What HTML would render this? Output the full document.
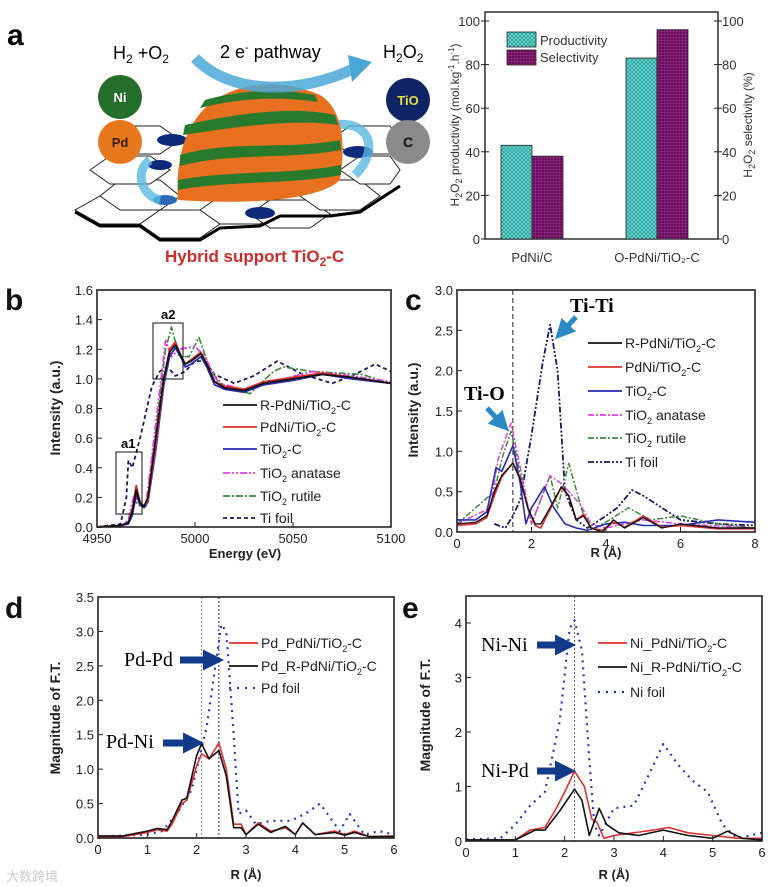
<!DOCTYPE html>
<html><head><meta charset="utf-8"><style>
body{margin:0;background:#fff}
svg{display:block;font-family:"Liberation Sans",sans-serif}
</style></head><body>
<svg id="fig" width="776" height="887" viewBox="0 0 776 887" xmlns="http://www.w3.org/2000/svg">
<defs>
<pattern id="hatch" width="4" height="4" patternUnits="userSpaceOnUse"><rect width="4" height="4" fill="#5fd6cf"/><path d="M0,4L4,0M0,0L4,4" stroke="#2a8a86" stroke-width="0.6"/></pattern>
<pattern id="hatch2" width="3" height="3" patternUnits="userSpaceOnUse"><rect width="3" height="3" fill="#6a0a5e"/><path d="M0,1.5H3M1.5,0V3" stroke="#9a3a8a" stroke-width="0.5"/></pattern>
<marker id="ah" markerWidth="4" markerHeight="4" refX="2" refY="2" orient="auto"><path d="M0,0L4,2L0,4z" fill="#2a8ac8"/></marker>
<marker id="ahn" markerWidth="3" markerHeight="3" refX="1" refY="1.5" orient="auto"><path d="M0,0L3,1.5L0,3z" fill="#123a8a"/></marker>
</defs>

<!-- Panel a illustration -->
<g>
<text x="7" y="45" font-size="30" font-weight="bold">a</text>
<g stroke="#222" stroke-width="1">
<polygon points="75,210 100,196 140,196 160,210 140,224 100,224" fill="#fff"/>
<polygon points="140,224 160,210 200,210 220,224 200,238 160,238" fill="#fff"/>
<polygon points="100,196 120,180 160,180 180,196 160,210 120,210" fill="#fff"/>
<polygon points="90,170 110,156 150,156 170,170 150,184 110,184" fill="#fff"/>
<polygon points="200,210 220,196 260,196 280,210 260,224 220,224" fill="#fff"/>
<polygon points="250,214 270,200 310,200 330,214 310,228 270,228" fill="#fff"/>
<polygon points="300,196 320,180 360,180 380,196 360,210 320,210" fill="#fff"/>
<polygon points="340,170 360,156 390,156 400,170 390,184 360,184" fill="#fff"/>
<polygon points="330,140 350,126 390,126 400,140 390,154 350,154" fill="#fff"/>
<polygon points="100,140 120,126 160,126 180,140 160,154 120,154" fill="#fff"/>
<path d="M75,212 L100,226 L140,226 L160,240 L200,240 L220,228 L260,226 L280,216 L330,216 L360,212 L400,186" fill="none" stroke="#000" stroke-width="3"/>
</g>
<ellipse cx="260" cy="213" rx="15" ry="6" fill="#0d2a7a"/>
<ellipse cx="172" cy="140" rx="15" ry="6" fill="#0d2a7a"/>
<ellipse cx="160" cy="165" rx="12" ry="5" fill="#0d2a7a"/>
<ellipse cx="358" cy="152" rx="15" ry="6" fill="#0d2a7a"/>
<ellipse cx="165" cy="200" rx="12" ry="5" fill="#2a6ab8"/>
<path d="M150,160 C135,170 140,195 160,200" fill="none" stroke="#5ab8e0" stroke-width="9" opacity="0.8"/>
<path d="M335,125 C370,120 380,150 355,175" fill="none" stroke="#5ab8e0" stroke-width="9" opacity="0.8"/>
<g>
<path d="M178,200 C175,160 185,120 215,100 C245,80 285,80 320,95 C345,110 345,150 340,180 C320,200 250,205 178,200Z" fill="#e8701e"/>
<path d="M185,125 C230,115 290,105 335,115 L338,125 C290,118 230,128 183,135Z" fill="#2a7a2e"/>
<path d="M180,155 C230,140 290,150 340,140 L341,150 C290,160 230,152 180,166Z" fill="#2a7a2e"/>
<path d="M178,180 C230,170 290,175 341,165 L341,175 C290,185 230,180 178,190Z" fill="#2a7a2e"/>
<path d="M205,100 C240,90 280,88 315,95 L318,102 C280,96 240,98 200,108Z" fill="#2a7a2e"/>
</g>
<path d="M195,58 C230,95 300,95 355,68" fill="none" stroke="#4aa8d8" stroke-width="11" opacity="0.85"/>
<polygon points="348,55 372,62 352,82" fill="#4aa8d8"/>
<text x="113" y="59" font-size="18">H<tspan font-size="12" dy="4">2</tspan><tspan dy="-4"> +O</tspan><tspan font-size="12" dy="4">2</tspan></text>
<text x="220" y="58" font-size="18">2 e<tspan font-size="11" dy="-7">-</tspan><tspan dy="7"> pathway</tspan></text>
<text x="383" y="58" font-size="18">H<tspan font-size="12" dy="4">2</tspan><tspan dy="-4">O</tspan><tspan font-size="12" dy="4">2</tspan></text>
<circle cx="120" cy="97" r="22" fill="#236e2a"/>
<text x="120" y="102" font-size="13" font-weight="bold" fill="#fff" text-anchor="middle">Ni</text>
<circle cx="120" cy="142" r="22" fill="#e8781e"/>
<text x="120" y="147" font-size="13" font-weight="bold" fill="#3a1a00" text-anchor="middle">Pd</text>
<circle cx="408" cy="100" r="22" fill="#0d2564"/>
<text x="408" y="105" font-size="13" font-weight="bold" fill="#e8e040" text-anchor="middle">TiO</text>
<circle cx="408" cy="142" r="22" fill="#8a8a8a"/>
<text x="408" y="147" font-size="14" font-weight="bold" fill="#111" text-anchor="middle">C</text>
<text x="165" y="262" font-size="17" font-weight="bold" fill="#d12b2b">Hybrid support TiO<tspan font-size="12" dy="4">2</tspan><tspan dy="-4">-C</tspan></text>
</g>

<g id="plots"></g>
<text x="6" y="881" font-size="13" fill="#ccc" font-family="'Liberation Sans','Noto Sans CJK SC',sans-serif">大数跨境</text>
</svg>
<script>
// ---------- Panel a bar chart data ----------
const barCategories = ["PdNi/C", "O-PdNi/TiO\u2082-C"];
const productivity = [43, 83];
const selectivity = [38, 96];
const barTicks = [0, 20, 40, 60, 80, 100];

// ---------- Panel b (XANES) data ----------
const bTicksX = [4950, 5000, 5050, 5100];
const bTicksY = [0, 0.2, 0.4, 0.6, 0.8, 1.0, 1.2, 1.4, 1.6];
const bE_main = [4950,4962,4966,4968,4970,4972,4974,4976,4980,4984,4987,4990,4993,4995,4998,5003,5006,5010,5015,5025,5035,5050,5065,5080,5100];
const bRPdNi = [0,0.01,0.03,0.1,0.25,0.16,0.14,0.2,0.6,1.0,1.18,1.23,1.15,1.1,1.12,1.17,1.1,0.98,0.94,0.92,0.97,1.0,1.03,1.01,0.97];
const bPdNi  = [0,0.01,0.03,0.12,0.28,0.17,0.14,0.18,0.55,0.98,1.2,1.25,1.15,1.1,1.13,1.18,1.1,0.98,0.95,0.93,0.98,1.01,1.04,1.01,0.97];
const bTiO2C = [0,0.01,0.02,0.08,0.22,0.15,0.13,0.17,0.52,0.95,1.15,1.21,1.14,1.08,1.1,1.15,1.08,0.96,0.93,0.91,0.96,0.99,1.03,1.0,0.97];
const bE_ana = [4950,4963,4966,4969,4972,4975,4980,4985,4988,4992,5000,5005,5012,5025,5045,5060,5080,5100];
const bAnatase = [0,0.01,0.05,0.22,0.15,0.15,0.7,1.26,1.15,1.2,1.22,1.15,0.97,0.93,1.0,1.05,1.02,0.98];
const bE_rut = [4950,4963,4966,4969,4972,4975,4980,4985,4988,4992,4997,5002,5008,5015,5028,5040,5045,5060,5085,5100];
const bRutile = [0,0.01,0.04,0.18,0.14,0.14,0.65,1.2,1.35,1.15,1.15,1.28,1.05,0.95,0.9,1.05,1.08,1.05,1.03,0.97];
const bE_ti = [4950,4962,4965,4966,4968,4972,4978,4982,4986,4990,4995,5000,5005,5010,5020,5030,5042,5055,5070,5080,5092,5100];
const bTiFoil = [0,0.02,0.2,0.45,0.4,0.6,0.95,1.05,1.08,1.02,1.05,1.12,1.12,1.03,0.97,1.02,1.12,1.03,0.97,1.02,1.1,1.05];

// ---------- Panel c (Ti EXAFS) data ----------
const cTicksX = [0, 2, 4, 6, 8];
const cTicksY = [0, 0.5, 1.0, 1.5, 2.0, 2.5, 3.0];
const cR_a = [0,0.5,0.8,1.0,1.2,1.5,1.7,1.9,2.1,2.25,2.5,2.8,3.0,3.2,3.4,3.6,3.9,4.2,4.5,5.0,5.5,6,7,8];
const cRPdNi = [0.1,0.12,0.2,0.5,0.7,0.85,0.65,0.3,0.1,0.1,0.3,0.56,0.45,0.15,0.2,0.05,0.0,0.15,0.05,0.18,0.05,0.1,0.05,0.05];
const cPdNi  = [0.08,0.1,0.18,0.45,0.68,0.86,0.66,0.3,0.08,0.05,0.28,0.55,0.45,0.15,0.22,0.05,0.02,0.12,0.06,0.2,0.06,0.08,0.04,0.04];
const cR_b = [0,0.5,0.8,1.05,1.2,1.5,1.7,1.85,2.0,2.35,2.6,2.9,3.2,3.5,4.0,4.5,5,6,7,8];
const cTiO2C = [0.15,0.15,0.25,0.8,0.75,1.07,0.6,0.1,0.3,0.56,0.3,0.1,0.05,0.02,0.1,0.12,0.08,0.08,0.15,0.12];
const cR_ana = [0,0.9,1.1,1.45,1.7,2.0,2.5,2.8,3.3,3.6,4,4.5,5,6,8];
const cAnatase = [0.1,0.3,0.9,1.35,0.8,0.1,0.7,0.6,0.35,0.1,0.05,0.1,0.15,0.1,0.05];
const cR_rut = [0,1.0,1.2,1.45,1.75,2.0,2.5,2.7,3.0,3.4,3.7,4.1,4.6,5.2,6,7,8];
const cRutile = [0.1,0.5,0.9,1.25,0.6,0.1,0.7,0.3,0.85,0.2,0.05,0.15,0.3,0.15,0.2,0.1,0.05];
const cR_ti = [1.0,1.3,1.5,1.7,2.0,2.3,2.5,2.7,2.9,3.2,3.5,4.0,4.3,4.7,5.0,5.5,6,7,8];
const cTiFoil = [0.1,0.05,0.2,0.4,1.2,2.1,2.57,2.0,0.5,0.15,0.05,0.2,0.3,0.52,0.45,0.3,0.15,0.1,0.08];

// ---------- Panel d (Pd EXAFS) data ----------
const dTicksX = [0,1,2,3,4,5,6];
const dTicksY = [0,0.5,1.0,1.5,2.0,2.5,3.0,3.5];
const dR = [0,0.5,1.0,1.2,1.4,1.5,1.7,1.8,2.0,2.1,2.25,2.45,2.6,2.75,2.9,3.0,3.25,3.5,3.8,4.0,4.15,4.4,4.8,5.0,5.2,5.5,6];
const dPdNi  = [0.02,0.02,0.08,0.12,0.1,0.2,0.5,0.55,1.05,1.22,1.15,1.38,1.0,0.2,0.2,0.05,0.22,0.1,0.15,0.05,0.22,0.05,0.1,0.05,0.1,0.02,0.03];
const dRPdNi = [0.03,0.03,0.1,0.14,0.12,0.25,0.55,0.58,1.2,1.37,1.15,1.27,0.9,0.15,0.15,0.05,0.2,0.08,0.17,0.05,0.22,0.05,0.08,0.04,0.08,0.02,0.02];
const dR_foil = [0,1,1.3,1.6,1.9,2.2,2.4,2.5,2.6,2.75,2.85,3.0,3.2,3.5,3.9,4.2,4.5,4.7,4.9,5.1,5.4,5.7,6];
const dPdFoil = [0.02,0.05,0.1,0.35,0.7,1.6,2.6,3.1,3.0,1.5,0.35,0.4,0.2,0.25,0.25,0.35,0.5,0.3,0.1,0.35,0.05,0.1,0.05];

// ---------- Panel e (Ni EXAFS) data ----------
const eTicksX = [0,1,2,3,4,5,6];
const eTicksY = [0,1,2,3,4];
const eR_red = [0,1,1.3,1.6,1.8,2.0,2.2,2.4,2.55,2.65,2.8,3.0,3.4,3.8,4.1,4.5,5,5.5,6];
const ePdNi = [0.02,0.02,0.2,0.25,0.55,0.9,1.28,1.0,0.4,0.35,0.05,0.1,0.15,0.2,0.25,0.15,0.1,0.05,0.05];
const eR_blk = [0,1,1.4,1.6,1.9,2.2,2.35,2.5,2.7,2.85,3.1,3.5,4.0,4.5,5,5.3,5.6,6];
const eRPdNi = [0.02,0.02,0.2,0.2,0.55,0.95,0.75,0.1,0.6,0.3,0.15,0.1,0.2,0.1,0.05,0.18,0.05,0.02];
const eR_foil = [0,0.7,1.0,1.3,1.6,1.9,2.1,2.2,2.35,2.5,2.6,2.7,3.0,3.4,3.7,4.0,4.3,4.6,4.9,5.2,5.5,6];
const eNiFoil = [0.03,0.05,0.3,0.65,0.9,2.2,3.9,4.05,3.5,1.5,0.3,0.1,0.6,0.65,1.2,1.78,1.4,1.1,0.9,0.3,0.05,0.15];

const NS = "http://www.w3.org/2000/svg";
const root = document.getElementById("plots");
function mk(tag, attrs, parent) {
  const el = document.createElementNS(NS, tag);
  for (const k in attrs) el.setAttribute(k, attrs[k]);
  (parent || root).appendChild(el);
  return el;
}
function scale(d0, d1, r0, r1) { return v => r0 + (v - d0) / (d1 - d0) * (r1 - r0); }

function frame(g, P, xt, yt, xfmt, yfmt, fs) {
  const r = mk("rect", {x:P.x0, y:P.y1, width:P.x1-P.x0, height:P.y0-P.y1, fill:"none", stroke:"#222", "stroke-width":1.6}, g);
  
  
  xt.forEach(v => {
    const x = P.sx(v);
    mk("line", {x1:x, x2:x, y1:P.y0, y2:P.y0-5, stroke:"#222"}, g);
    const t = mk("text", {x:x, y:P.y0+16, "font-size":fs, "text-anchor":"middle", fill:"#222"}, g);
    t.textContent = xfmt(v);
    
    
  });
  yt.forEach(v => {
    const y = P.sy(v);
    mk("line", {x1:P.x0, x2:P.x0+5, y1:y, y2:y, stroke:"#222"}, g);
    const t = mk("text", {x:P.x0-4, y:y+5, "font-size":fs, "text-anchor":"end", fill:"#222"}, g);
    t.textContent = yfmt(v);
    
    
  });
}
function series(g, P, xs, ys, color, dash, w, name) {
  const d = xs.map((x, i) => (i ? "L" : "M") + P.sx(x).toFixed(1) + "," + P.sy(ys[i]).toFixed(1)).join("");
  const p = mk("path", {d:d, fill:"none", stroke:color, "stroke-width":w||1.6, "stroke-dasharray":dash||"none", "stroke-linejoin":"round"}, g);
  
  
}
function legend(g, x0, x1, y, color, dash, label, w, fs) {
  const l = mk("line", {x1:x0, x2:x1, y1:y, y2:y, stroke:color, "stroke-width":w||1.8, "stroke-dasharray":dash||"none"}, g);
  
  
  const t = mk("text", {x:x1+3, y:y+5, "font-size":fs||14, fill:"#222"}, g);
  t.innerHTML = label;
  
  
}
function ylabel(g, x, y, html, fs, rot) {
  const t = mk("text", {x:0, y:0, "font-size":fs||14, "font-weight":"bold", "text-anchor":"middle", transform:`translate(${x},${y}) rotate(${rot||-90})`, fill:"#222"}, g);
  t.innerHTML = html;
  
  
}
function xlabel(g, x, y, html) {
  const t = mk("text", {x:x, y:y, "font-size":13, "font-weight":"bold", "text-anchor":"middle", fill:"#222"}, g);
  t.innerHTML = html;
  
  
}
function plabel(g, x, y, s) {
  const t = mk("text", {x:x, y:y, "font-size":30, "font-weight":"bold", fill:"#111"}, g);
  t.textContent = s;
  
  
}
const f1 = v => v.toFixed(1), f0 = v => String(v);

// ===== Panel a bar chart =====
{
  const g = mk("g", {});
  
  
  const P = {x0:485, x1:718, y0:239, y1:12};
  P.sy = scale(0, 100, 239, 21);
  mk("rect", {x:P.x0, y:P.y1, width:P.x1-P.x0, height:P.y0-P.y1, fill:"none", stroke:"#222", "stroke-width":1.4}, g);
  barTicks.forEach(v => {
    const y = P.sy(v);
    mk("line", {x1:P.x0-4, x2:P.x0+4, y1:y, y2:y, stroke:"#222"}, g);
    mk("line", {x1:P.x1-4, x2:P.x1+4, y1:y, y2:y, stroke:"#222"}, g);
    const a = mk("text", {x:P.x0-5, y:y+5, "font-size":13, "text-anchor":"end", fill:"#333"}, g); a.textContent = v;
    
    
    const b = mk("text", {x:P.x1+4, y:y+5, "font-size":13, fill:"#333"}, g); b.textContent = v;
    
    
  });
  const centers = [532, 657], bw = 31;
  barCategories.forEach((c, i) => {
    const r1 = mk("rect", {x:centers[i]-bw, y:P.sy(productivity[i]), width:bw, height:P.sy(0)-P.sy(productivity[i]), fill:"url(#hatch)", stroke:"#222", "stroke-width":0.8}, g);
    
    
    const r2 = mk("rect", {x:centers[i], y:P.sy(selectivity[i]), width:bw, height:P.sy(0)-P.sy(selectivity[i]), fill:"url(#hatch2)", stroke:"#222", "stroke-width":0.8}, g);
    
    
    const t = mk("text", {x:centers[i], y:262, "font-size":13, "text-anchor":"middle", fill:"#333"}, g);
    t.textContent = c;
    
    
  });
  const s1 = mk("rect", {x:507, y:32, width:29, height:15, fill:"url(#hatch)", stroke:"#222", "stroke-width":0.8}, g);
   
  const s2 = mk("rect", {x:507, y:50, width:29, height:15, fill:"url(#hatch2)", stroke:"#222", "stroke-width":0.8}, g);
   
  const l1 = mk("text", {x:540, y:45, "font-size":13, fill:"#333"}, g); l1.textContent = "Productivity";
   
  const l2 = mk("text", {x:540, y:62, "font-size":13, fill:"#333"}, g); l2.textContent = "Selectivity";
   
  const yl = mk("text", {x:0, y:0, "font-size":12, "text-anchor":"middle", fill:"#333", transform:"translate(459,125) rotate(-90)"}, g);
  yl.innerHTML = 'H<tspan font-size="9" dy="3">2</tspan><tspan dy="-3">O</tspan><tspan font-size="9" dy="3">2</tspan><tspan dy="-3"> productivity (mol.kg</tspan><tspan font-size="8" dy="-5">-1</tspan><tspan dy="5">.h</tspan><tspan font-size="8" dy="-5">-1</tspan><tspan dy="5">)</tspan>';
   
  const yr = mk("text", {x:0, y:0, "font-size":12, "text-anchor":"middle", fill:"#333", transform:"translate(752,125) rotate(-90)"}, g);
  yr.innerHTML = 'H<tspan font-size="9" dy="3">2</tspan><tspan dy="-3">O</tspan><tspan font-size="9" dy="3">2</tspan><tspan dy="-3"> selectivity (%)</tspan>';
   
}

const sub2 = '<tspan font-size="9" dy="4">2</tspan><tspan dy="-4">';
// ===== Panel b =====
{
  const g = mk("g", {});
  
  
  const P = {x0:97, x1:391, y0:527, y1:290};
  P.sx = scale(4950, 5100, 97, 391); P.sy = scale(0, 1.6, 527, 290);
  plabel(g, 5, 310, "b");
  series(g, P, bE_ti, bTiFoil, "#1a1a5a", "4,3", 1.8, "line-ti-foil");
  series(g, P, bE_rut, bRutile, "#3a8a3a", "7,2,2,2", 1.6, "line-tio2-rutile");
  series(g, P, bE_ana, bAnatase, "#e040e0", "7,2,2,2,2,2", 1.8, "line-tio2-anatase");
  series(g, P, bE_main, bTiO2C, "#2a2ab8", "", 1.8, "line-tio2-c");
  series(g, P, bE_main, bPdNi, "#e03030", "", 1.8, "line-pdni-tio2-c");
  series(g, P, bE_main, bRPdNi, "#111", "", 1.8, "line-r-pdni-tio2-c");
  frame(g, P, bTicksX, bTicksY, f0, f1, 13);
  mk("rect", {x:153, y:323, width:30, height:56, fill:"none", stroke:"#111", "stroke-width":1}, g);
  mk("rect", {x:116, y:452, width:26, height:62, fill:"none", stroke:"#111", "stroke-width":1}, g);
  const a2 = mk("text", {x:161, y:319, "font-size":13, "font-weight":"bold"}, g); a2.textContent = "a2";
   
  const a1 = mk("text", {x:121, y:448, "font-size":13, "font-weight":"bold"}, g); a1.textContent = "a1";
   
  legend(g, 223, 257, 405, "#111", "", "R-PdNi/TiO" + sub2 + "-C</tspan>");
  legend(g, 223, 257, 427, "#e03030", "", "PdNi/TiO" + sub2 + "-C</tspan>");
  legend(g, 223, 257, 449, "#2a2ab8", "", "TiO" + sub2 + "-C</tspan>");
  legend(g, 223, 257, 473, "#e040e0", "7,2,2,2,2,2", "TiO" + sub2 + " anatase</tspan>");
  legend(g, 223, 257, 496, "#3a8a3a", "7,2,2,2", "TiO" + sub2 + " rutile</tspan>");
  legend(g, 223, 257, 518, "#1a1a5a", "4,3", "Ti foil");
  ylabel(g, 60, 408, "Intensity (a.u.)");
  xlabel(g, 245, 558, "Energy (eV)");
}
// ===== Panel c =====
{
  const g = mk("g", {});
  
  
  const P = {x0:457, x1:755, y0:532, y1:290};
  P.sx = scale(0, 8, 457, 755); P.sy = scale(0, 3, 532, 290);
  plabel(g, 405, 310, "c");
  mk("line", {x1:P.sx(1.5), x2:P.sx(1.5), y1:290, y2:532, stroke:"#222", "stroke-dasharray":"5,3"}, g);
  series(g, P, cR_ti, cTiFoil, "#1a1a5a", "6,2,2,2,2,2", 1.8, "line-ti-foil");
  series(g, P, cR_rut, cRutile, "#3a8a3a", "6,2,2,2", 1.5, "line-tio2-rutile");
  series(g, P, cR_ana, cAnatase, "#e040e0", "6,2,2,2", 1.5, "line-tio2-anatase");
  series(g, P, cR_b, cTiO2C, "#2a2ab8", "", 1.6, "line-tio2-c");
  series(g, P, cR_a, cPdNi, "#e03030", "", 1.6, "line-pdni-tio2-c");
  series(g, P, cR_a, cRPdNi, "#111", "", 1.4, "line-r-pdni-tio2-c");
  frame(g, P, cTicksX, cTicksY, f0, f1, 13);
  const tt = mk("text", {x:570, y:312, "font-size":20, "font-weight":"bold", "font-family":"'Liberation Serif',serif"}, g); tt.textContent = "Ti-Ti";
   
  mk("line", {x1:576, y1:317, x2:562, y2:332, stroke:"#2a8ac8", "stroke-width":5, "marker-end":"url(#ah)"}, g);
  const to = mk("text", {x:464, y:400, "font-size":20, "font-weight":"bold", "font-family":"'Liberation Serif',serif"}, g); to.textContent = "Ti-O";
   
  mk("line", {x1:487, y1:408, x2:502, y2:424, stroke:"#2a8ac8", "stroke-width":5, "marker-end":"url(#ah)"}, g);
  legend(g, 588, 622, 343, "#111", "", "R-PdNi/TiO" + sub2 + "-C</tspan>", 1.8, 14);
  legend(g, 588, 622, 367, "#e03030", "", "PdNi/TiO" + sub2 + "-C</tspan>", 1.8, 14);
  legend(g, 588, 622, 391, "#2a2ab8", "", "TiO" + sub2 + "-C</tspan>", 1.8, 14);
  legend(g, 588, 622, 415, "#e040e0", "6,2,2,2", "TiO" + sub2 + " anatase</tspan>", 1.8, 14);
  legend(g, 588, 622, 438, "#3a8a3a", "6,2,2,2", "TiO" + sub2 + " rutile</tspan>", 1.8, 14);
  legend(g, 588, 622, 462, "#1a1a5a", "6,2,2,2,2,2", "Ti foil", 1.8, 14);
  ylabel(g, 418, 410, "Intensity (a.u.)");
  xlabel(g, 606, 557, "R (Å)");
}
// ===== Panel d =====
{
  const g = mk("g", {});
  
  
  const P = {x0:98, x1:394, y0:838, y1:597};
  P.sx = scale(0, 6, 98, 394); P.sy = scale(0, 3.5, 838, 597);
  plabel(g, 5, 618, "d");
  mk("line", {x1:P.sx(2.1), x2:P.sx(2.1), y1:597, y2:838, stroke:"#999", "stroke-dasharray":"2,2"}, g);
  mk("line", {x1:P.sx(2.45), x2:P.sx(2.45), y1:597, y2:838, stroke:"#2a2a8a", "stroke-dasharray":"2,2"}, g);
  series(g, P, dR_foil, dPdFoil, "#2a3ab0", "2,5", 2.2, "line-pd-foil");
  series(g, P, dR, dPdNi, "#e03030", "", 1.6, "line-pd-pdni-tio2-c");
  series(g, P, dR, dRPdNi, "#111", "", 1.6, "line-pd-r-pdni-tio2-c");
  frame(g, P, dTicksX, dTicksY, f0, f1, 13);
  const t1 = mk("text", {x:124, y:666, "font-size":20, "font-family":"'Liberation Serif',serif"}, g); t1.textContent = "Pd-Pd";
   
  mk("line", {x1:180, y1:660, x2:210, y2:660, stroke:"#123a8a", "stroke-width":7, "marker-end":"url(#ahn)"}, g);
  const t2 = mk("text", {x:106, y:748, "font-size":20, "font-family":"'Liberation Serif',serif"}, g); t2.textContent = "Pd-Ni";
   
  mk("line", {x1:163, y1:743, x2:190, y2:743, stroke:"#123a8a", "stroke-width":7, "marker-end":"url(#ahn)"}, g);
  legend(g, 229, 258, 643, "#e03030", "", "Pd_PdNi/TiO" + sub2 + "-C</tspan>", 1.8, 14);
  legend(g, 229, 258, 666, "#111", "", "Pd_R-PdNi/TiO" + sub2 + "-C</tspan>", 1.8, 14);
  legend(g, 229, 258, 688, "#2a3ab0", "2,6", "Pd foil", 2.2, 14);
  ylabel(g, 60, 718, "Magnitude of F.T.");
  xlabel(g, 246, 879, "R (Å)");
}
// ===== Panel e =====
{
  const g = mk("g", {});
  
  
  const P = {x0:466, x1:762, y0:841, y1:596};
  P.sx = scale(0, 6, 466, 762); P.sy = scale(0, 4, 841, 623);
  plabel(g, 402, 618, "e");
  mk("line", {x1:P.sx(2.2), x2:P.sx(2.2), y1:596, y2:841, stroke:"#666", "stroke-dasharray":"2,2"}, g);
  series(g, P, eR_foil, eNiFoil, "#2a3ab0", "2,5", 2.2, "line-ni-foil");
  series(g, P, eR_red, ePdNi, "#e03030", "", 1.6, "line-ni-pdni-tio2-c");
  series(g, P, eR_blk, eRPdNi, "#111", "", 1.6, "line-ni-r-pdni-tio2-c");
  frame(g, P, eTicksX, eTicksY, f0, f0, 13);
  const t1 = mk("text", {x:481, y:651, "font-size":20, "font-family":"'Liberation Serif',serif"}, g); t1.textContent = "Ni-Ni";
   
  mk("line", {x1:537, y1:645, x2:562, y2:645, stroke:"#123a8a", "stroke-width":7, "marker-end":"url(#ahn)"}, g);
  const t2 = mk("text", {x:481, y:777, "font-size":20, "font-family":"'Liberation Serif',serif"}, g); t2.textContent = "Ni-Pd";
   
  mk("line", {x1:537, y1:771, x2:562, y2:771, stroke:"#123a8a", "stroke-width":7, "marker-end":"url(#ahn)"}, g);
  legend(g, 598, 627, 643, "#e03030", "", "Ni_PdNi/TiO" + sub2 + "-C</tspan>", 1.8, 14);
  legend(g, 598, 627, 667, "#111", "", "Ni_R-PdNi/TiO" + sub2 + "-C</tspan>", 1.8, 14);
  legend(g, 598, 627, 692, "#2a3ab0", "2,6", "Ni foil", 2.2, 14);
  ylabel(g, 430, 715, "Magnitude of F.T.");
  xlabel(g, 614, 879, "R (Å)");
}
</script>
</body></html>
